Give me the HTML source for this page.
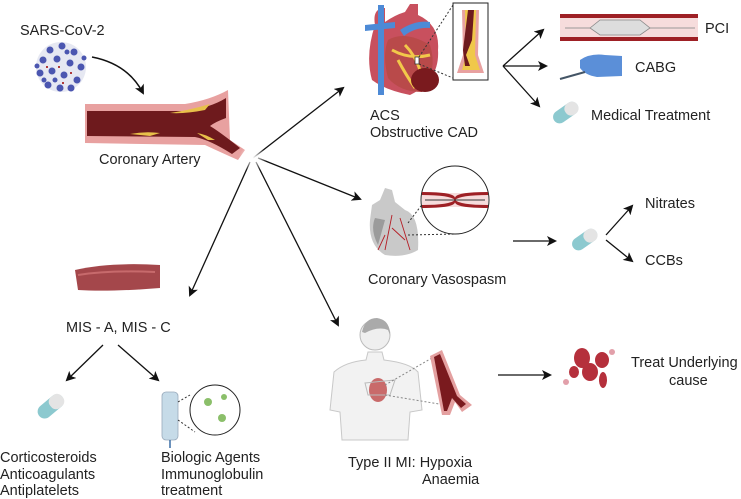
<!DOCTYPE html>
<html><head><meta charset="utf-8"><style>
html,body{margin:0;padding:0;background:#fff;width:741px;height:499px;overflow:hidden}
svg{display:block}
text{font-family:"Liberation Sans",sans-serif;font-size:14.5px;fill:#222}
</style></head><body>
<svg width="741" height="499" viewBox="0 0 741 499" xmlns="http://www.w3.org/2000/svg">
<defs>
<marker id="a" markerWidth="10" markerHeight="10" refX="8" refY="5" orient="auto" markerUnits="userSpaceOnUse"><path d="M0,0 L10,5 L0,10 L2.5,5 z" fill="#111"/></marker>
<radialGradient id="fade" cx="0.5" cy="0.5" r="0.5"><stop offset="0" stop-color="#fff"/><stop offset="1" stop-color="#fff" stop-opacity="0"/></radialGradient>
</defs>

<!-- SARS-CoV-2 -->
<text x="20" y="35">SARS-CoV-2</text>
<circle cx="61" cy="67" r="25" fill="#e6e8f2"/>
<g fill="#4b56b0">
<circle cx="50" cy="50" r="3.5"/><circle cx="62" cy="46" r="3.5"/><circle cx="74" cy="52" r="3.5"/><circle cx="43" cy="60" r="3.5"/><circle cx="57" cy="59" r="3.5"/><circle cx="70" cy="63" r="3.5"/><circle cx="81" cy="67" r="3.5"/><circle cx="40" cy="73" r="3.5"/><circle cx="52" cy="71" r="3.5"/><circle cx="64" cy="75" r="3.5"/><circle cx="77" cy="80" r="3.5"/><circle cx="48" cy="85" r="3.5"/><circle cx="60" cy="88" r="3.5"/><circle cx="71" cy="88" r="3.5"/><circle cx="84" cy="58" r="2.5"/><circle cx="37" cy="66" r="2.5"/><circle cx="55" cy="80" r="2.5"/><circle cx="67" cy="52" r="2.5"/><circle cx="44" cy="80" r="2.5"/>
</g>
<g fill="#b03a3a"><rect x="58" y="66" width="2" height="2"/><rect x="46" y="66" width="2" height="2"/><rect x="70" y="72" width="2" height="2"/><rect x="62" y="82" width="2" height="2"/></g>
<path d="M92,57 Q128,64 143,93" fill="none" stroke="#111" stroke-width="1.5" marker-end="url(#a)"/>

<!-- Coronary artery -->
<path d="M85,104 L185,104 Q210,100 228,90 L230,140 L245,150 L238,160 Q220,152 205,145 L85,143 z" fill="#e8a1a0"/>
<path d="M87,111 L185,111 Q210,108 226,98 L226,118 Q215,122 210,126 Q220,132 240,148 L232,154 Q210,140 195,137 L87,136 z" fill="#6e1a1d"/>
<path d="M170,113 Q190,110 210,104 L205,110 Q185,114 170,113z M130,134 Q145,131 160,133 L150,136z M197,133 Q205,134 215,140 L208,140z" fill="#e8c04a"/>
<text x="99" y="164">Coronary Artery</text>

<!-- radiating arrows -->
<g stroke="#111" stroke-width="1.3" fill="none" marker-end="url(#a)">
<line x1="253" y1="158" x2="343" y2="88"/>
<line x1="258" y1="158" x2="360" y2="199"/>
<line x1="250" y1="162" x2="190" y2="295"/>
<line x1="256" y1="162" x2="338" y2="325"/>
</g>
<circle cx="253" cy="158" r="14" fill="url(#fade)"/>

<!-- ACS heart -->
<path d="M375,25 Q372,8 385,8 L385,22 Q395,15 405,12 L410,4 L418,4 L418,15 Q440,25 438,50 Q440,80 410,95 Q385,90 372,80 Q365,55 375,25z" fill="#c8505e"/>
<path d="M388,40 Q405,30 430,45 Q438,70 422,92 Q400,92 388,78 Q382,55 388,40z" fill="#b94a4a"/>
<path d="M392,50 Q410,60 430,55 M398,60 Q406,75 415,88 M405,45 Q415,55 420,70" stroke="#f2c84a" stroke-width="3" fill="none"/>
<ellipse cx="425" cy="80" rx="14" ry="12" fill="#7a1a1e"/>
<path d="M378,5 L384,5 L384,95 L378,95z M365,25 L395,22 L395,28 L365,31z M400,30 Q415,20 430,22 L430,28 Q415,27 404,36z" fill="#4d8ad6"/>
<rect x="415" y="57" width="4" height="7" fill="#fff" stroke="#222" stroke-width="0.7"/>
<line x1="419" y1="57" x2="453" y2="5" stroke="#333" stroke-dasharray="2,2"/>
<line x1="419" y1="64" x2="453" y2="78" stroke="#333" stroke-dasharray="2,2"/>
<rect x="453" y="3" width="35" height="77" fill="#fff" stroke="#222" stroke-width="1"/>
<path d="M462,10 L479,10 L478,55 L484,73 L457,73 L463,55z" fill="#e8a1a0"/>
<path d="M465,10 L476,10 L475,55 L480,70 L462,70 L466,55z" fill="#f0c84a"/>
<path d="M468,10 L474,10 L472,40 L466,55 L470,66 L465,66 L463,50z" fill="#6e1a1d"/>
<text x="370" y="120">ACS</text>
<text x="370" y="137">Obstructive CAD</text>
<g stroke="#111" stroke-width="1.3" fill="none" marker-end="url(#a)">
<line x1="503" y1="66" x2="543" y2="30"/>
<line x1="503" y1="66" x2="546" y2="66"/>
<line x1="503" y1="66" x2="539" y2="106"/>
</g>

<!-- PCI -->
<rect x="560" y="14" width="138" height="27" fill="#f6dcdc"/>
<rect x="560" y="14" width="138" height="4" fill="#9e2025"/>
<rect x="560" y="37" width="138" height="4" fill="#9e2025"/>
<line x1="565" y1="28" x2="695" y2="28" stroke="#999"/>
<path d="M590,28 L600,20 L640,20 L650,28 L640,35 L600,35z" fill="#ddd" stroke="#888" stroke-width="0.8"/>
<text x="705" y="33">PCI</text>
<!-- CABG -->
<path d="M580,60 Q590,53 605,55 L622,56 L622,76 L597,77 Q585,75 580,68z" fill="#5b8fd8"/>
<line x1="560" y1="79" x2="585" y2="72" stroke="#456" stroke-width="2"/>
<text x="635" y="72">CABG</text>
<!-- Medical -->
<g transform="rotate(-35 566 113)"><rect x="552" y="106" width="28" height="13" rx="6.5" fill="#8cc9cf"/><rect x="566" y="106" width="14" height="13" rx="6" fill="#e4e4e4"/></g>
<text x="591" y="120">Medical Treatment</text>

<!-- Vasospasm -->
<path d="M372,205 L380,200 L385,188 L392,190 L395,202 L405,210 Q420,215 418,250 Q405,258 385,255 Q368,245 370,220z" fill="#c9c9c9"/>
<path d="M375,218 Q370,230 378,245 L385,220z" fill="#9b9b9b"/>
<path d="M392,215 L385,250 M392,228 L405,240 M400,218 L410,250 M385,235 L378,250" stroke="#b41d25" stroke-width="0.9" fill="none"/>
<line x1="408" y1="223" x2="424" y2="202" stroke="#333" stroke-dasharray="2,2"/>
<line x1="408" y1="235" x2="455" y2="234" stroke="#333" stroke-dasharray="2,2"/>
<circle cx="455" cy="200" r="34" fill="#fff" stroke="#222" stroke-width="1"/>
<path d="M422,193 L488,193 L488,207 L422,207z" fill="#f6dcdc"/>
<path d="M422,192 Q455,192 455,198 Q455,192 488,192 L488,195 Q460,195 455,200 Q450,195 422,195z M422,208 Q455,208 455,202 Q455,208 488,208 L488,205 Q460,205 455,200 Q450,205 422,205z" fill="#9e2025"/>
<line x1="425" y1="200" x2="485" y2="200" stroke="#333"/>
<text x="368" y="284">Coronary Vasospasm</text>
<line x1="513" y1="241" x2="555" y2="241" stroke="#111" stroke-width="1.3" marker-end="url(#a)"/>
<g transform="rotate(-35 585 240)"><rect x="571" y="233" width="28" height="13" rx="6.5" fill="#8cc9cf"/><rect x="585" y="233" width="14" height="13" rx="6" fill="#e4e4e4"/></g>
<g stroke="#111" stroke-width="1.3" fill="none" marker-end="url(#a)">
<line x1="606" y1="235" x2="632" y2="206"/>
<line x1="606" y1="240" x2="632" y2="261"/>
</g>
<text x="645" y="208">Nitrates</text>
<text x="645" y="265">CCBs</text>

<!-- MIS -->
<path d="M75,270 Q110,262 160,265 L160,288 Q110,292 78,290z" fill="#a4474b"/>
<path d="M78,275 Q110,270 155,272" stroke="#c76a6c" stroke-width="2" fill="none"/>
<text x="66" y="332">MIS - A, MIS - C</text>
<g stroke="#111" stroke-width="1.3" fill="none" marker-end="url(#a)">
<line x1="103" y1="345" x2="67" y2="380"/>
<line x1="118" y1="345" x2="158" y2="380"/>
</g>
<g transform="rotate(-40 50 407)"><rect x="36" y="400" width="30" height="14" rx="7" fill="#8cc9cf"/><rect x="51" y="400" width="15" height="14" rx="6" fill="#e4e4e4"/></g>
<rect x="162" y="392" width="16" height="48" rx="4" fill="#c6dbe8" stroke="#9ab" stroke-width="0.8"/>
<line x1="170" y1="440" x2="170" y2="448" stroke="#3a6ea5" stroke-width="1.5"/>
<line x1="178" y1="402" x2="190" y2="395" stroke="#333" stroke-dasharray="2,2"/>
<line x1="178" y1="420" x2="195" y2="432" stroke="#333" stroke-dasharray="2,2"/>
<circle cx="215" cy="410" r="25" fill="#fff" stroke="#222" stroke-width="1"/>
<circle cx="208" cy="402" r="4" fill="#8bbf6a"/><circle cx="224" cy="397" r="3" fill="#8bbf6a"/><circle cx="222" cy="418" r="4" fill="#8bbf6a"/>
<text x="0" y="462">Corticosteroids</text>
<text x="0" y="479">Anticoagulants</text>
<text x="0" y="495">Antiplatelets</text>
<text x="161" y="462">Biologic Agents</text>
<text x="161" y="479">Immunoglobulin</text>
<text x="161" y="495">treatment</text>

<!-- Type II MI -->
<circle cx="375" cy="335" r="15" fill="#efefef" stroke="#bbb"/>
<path d="M362,332 Q365,318 377,318 Q390,320 390,335 L388,330 Q378,326 365,333z" fill="#aaa"/>
<path d="M368,352 L382,352 L384,360 Q410,363 418,372 L422,410 L410,412 L408,440 L342,440 L340,412 L330,410 L334,372 Q345,362 366,360z" fill="#f2f2f2" stroke="#c8c8c8"/>
<ellipse cx="378" cy="390" rx="9" ry="12" fill="#c96a6a"/>
<path d="M365,383 L395,380 L390,395 L368,395z" fill="none" stroke="#bbb"/>
<line x1="385" y1="385" x2="432" y2="358" stroke="#888" stroke-dasharray="2,2"/>
<line x1="385" y1="395" x2="445" y2="405" stroke="#888" stroke-dasharray="2,2"/>
<path d="M430,356 L442,350 L460,395 L472,405 L462,412 L455,402 L450,415 L442,415z" fill="#e4a0a0"/>
<path d="M434,357 L440,354 L457,396 L466,404 L461,408 L452,398 L447,411 L444,411z" fill="#7a1a1e"/>
<text x="348" y="467">Type II MI: Hypoxia</text>
<text x="422" y="484">Anaemia</text>
<line x1="498" y1="375" x2="550" y2="375" stroke="#111" stroke-width="1.3" marker-end="url(#a)"/>
<g fill="#b5303c">
<ellipse cx="582" cy="358" rx="8" ry="10"/><ellipse cx="590" cy="372" rx="8" ry="9"/><ellipse cx="602" cy="360" rx="7" ry="8"/><ellipse cx="603" cy="380" rx="4" ry="8"/><ellipse cx="574" cy="372" rx="5" ry="6"/>
</g>
<circle cx="566" cy="382" r="3" fill="#e2a0aa"/><circle cx="612" cy="352" r="3" fill="#e2a0aa"/>
<text x="631" y="367">Treat Underlying</text>
<text x="669" y="385">cause</text>
</svg>
</body></html>
